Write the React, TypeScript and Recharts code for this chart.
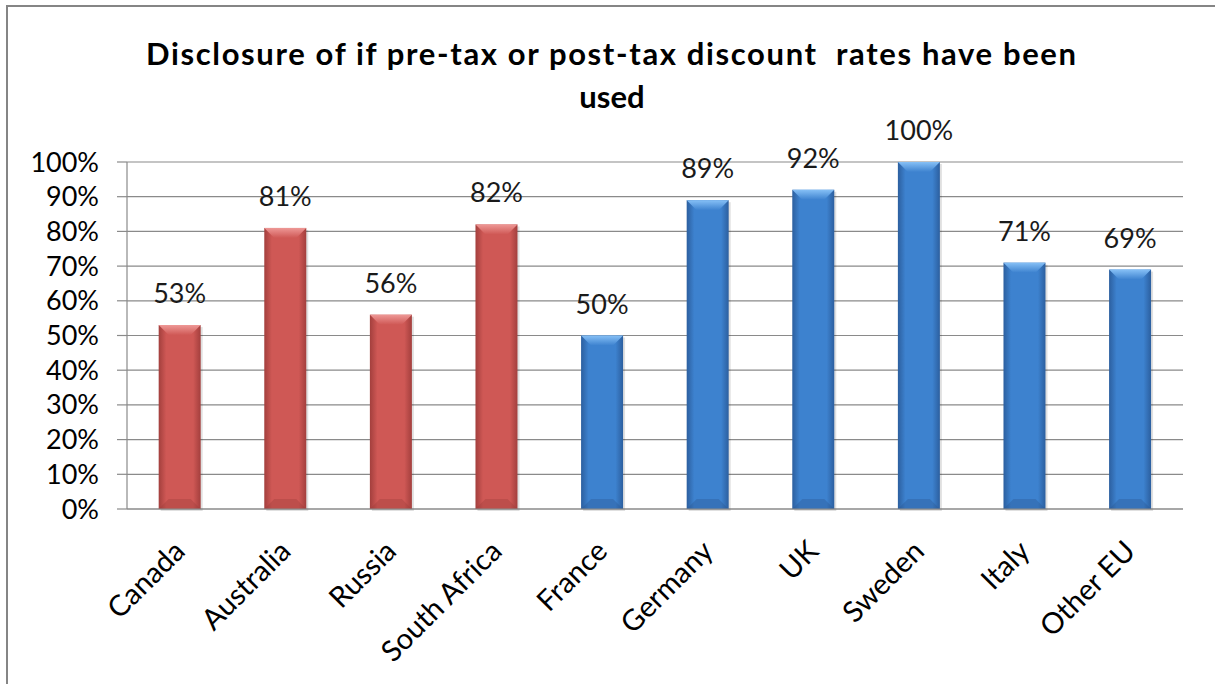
import React from 'react';
import { BarChart, Bar, XAxis, YAxis, CartesianGrid, LabelList } from 'recharts';

const countries = ['Canada', 'Australia', 'Russia', 'South Africa', 'France', 'Germany', 'UK', 'Sweden', 'Italy', 'Other EU'];
const disclosed = [53, 81, 56, 82, 50, 89, 92, 100, 71, 69];
const regions = ['non-EU', 'non-EU', 'non-EU', 'non-EU', 'EU', 'EU', 'EU', 'EU', 'EU', 'EU'];
const yTicks = [0, 10, 20, 30, 40, 50, 60, 70, 80, 90, 100];
const boundaryTicks = [0, 1, 2, 3, 4, 5, 6, 7, 8, 9, 10];

const data = countries.map((c, i) => ({ country: c, value: disclosed[i], region: regions[i], pos: i + 0.5 }));

const FONT = 'Lato, "Open Sans", sans-serif';
const GRID = '#8a8a8a';

const PALETTE: Record<string, { edge: string; mid: string; top: string; bottom: string }> = {
  'non-EU': { edge: '#a33f3d', mid: '#cf5855', top: '#ee9896', bottom: '#9a3b39' },
  EU: { edge: '#2c5f9f', mid: '#3d82cf', top: '#86c0f6', bottom: '#2a5690' },
};

function BevelBar(props: any) {
  const { x, y, width, height, payload } = props;
  if (!height || height <= 0) return null;
  const key = payload.region === 'EU' ? 'EU' : 'nonEU';
  const b = Math.min(10, height / 2);
  return (
    <g>
      <rect x={x + 2} y={y + 2} width={width} height={height} fill="#000" opacity={0.12} />
      <rect x={x} y={y} width={width} height={height} fill={`url(#side-${key})`} />
      <polygon
        points={`${x},${y} ${x + width},${y} ${x + width - b},${y + b} ${x + b},${y + b}`}
        fill={`url(#top-${key})`}
      />
      <polygon
        points={`${x},${y + height} ${x + width},${y + height} ${x + width - b},${y + height - b} ${x + b},${y + height - b}`}
        fill={PALETTE[payload.region].bottom}
        opacity={0.35}
      />
    </g>
  );
}

function CountryTick(props: any) {
  const { x, y, payload } = props;
  return (
    <g transform={`translate(${x + 7},${y + 44})`}>
      <text transform="rotate(-45)" textAnchor="end" fontFamily={FONT} fontSize={29} fill="#000">
        {payload.value}
      </text>
    </g>
  );
}

export default function App() {
  return (
    <div style={{ position: 'absolute', left: 0, top: 0, width: 1215, height: 684, overflow: 'hidden', background: '#fff' }}>
      <div
        style={{
          position: 'absolute',
          left: 6,
          top: 5,
          width: 1240,
          height: 720,
          border: '2px solid #858585',
          boxSizing: 'border-box',
        }}
      />
      <div style={{ position: 'absolute', left: 0, top: 0 }}>
        <BarChart
          width={1215}
          height={684}
          data={data}
          margin={{ top: 162, right: 32, bottom: 25, left: 0 }}
          barCategoryGap="30%"
        >
          <defs>
            {Object.entries(PALETTE).map(([region, c]) => {
              const key = region === 'EU' ? 'EU' : 'nonEU';
              return (
                <React.Fragment key={region}>
                  <linearGradient id={`side-${key}`} x1="0" y1="0" x2="1" y2="0">
                    <stop offset="0%" stopColor={c.edge} />
                    <stop offset="18%" stopColor={c.mid} />
                    <stop offset="82%" stopColor={c.mid} />
                    <stop offset="100%" stopColor={c.edge} />
                  </linearGradient>
                  <linearGradient id={`top-${key}`} x1="0" y1="0" x2="0" y2="1">
                    <stop offset="0%" stopColor={c.top} />
                    <stop offset="100%" stopColor={c.mid} />
                  </linearGradient>
                </React.Fragment>
              );
            })}
          </defs>
          <CartesianGrid vertical={false} stroke={GRID} strokeWidth={1.2} />
          <XAxis
            xAxisId="bounds"
            dataKey="pos"
            type="number"
            domain={[0, 10]}
            ticks={boundaryTicks}
            height={0}
            axisLine={false}
            tickLine={{ stroke: GRID, strokeWidth: 1.2 }}
            tickSize={10}
            tickFormatter={() => ''}
          />
          <XAxis
            dataKey="country"
            height={150}
            interval={0}
            axisLine={{ stroke: GRID, strokeWidth: 1.2 }}
            tickLine={false}
            tickSize={0}
            tickMargin={0}
            tick={<CountryTick />}
          />
          <YAxis
            width={127}
            domain={[0, 100]}
            ticks={yTicks}
            interval={0}
            tickFormatter={(v) => `${v}%`}
            axisLine={{ stroke: GRID, strokeWidth: 1.2 }}
            tickLine={{ stroke: GRID, strokeWidth: 1.2 }}
            tickSize={10}
            tickMargin={18}
            tick={{ fontFamily: FONT, fontSize: 27, fill: '#000' }}
          />
          <Bar dataKey="value" shape={<BevelBar />} isAnimationActive={false}>
            <LabelList
              dataKey="value"
              position="top"
              offset={22}
              formatter={(v: any) => `${v}%`}
              style={{ fontFamily: FONT, fontSize: 27, fill: '#1a1a1a' }}
            />
          </Bar>
        </BarChart>
      </div>
      <svg width={1215} height={130} style={{ position: 'absolute', left: 0, top: 0 }}>
        <text
          x={611}
          y={65}
          textAnchor="middle"
          fontFamily={FONT}
          fontWeight={700}
          fontSize={31}
          fill="#000"
          textLength={930}
          lengthAdjust="spacing"
          style={{ whiteSpace: 'pre' }}
        >
          Disclosure of if pre-tax or post-tax discount  rates have been
        </text>
        <text x={612} y={108} textAnchor="middle" fontFamily={FONT} fontWeight={700} fontSize={31} fill="#000">
          used
        </text>
      </svg>
    </div>
  );
}
